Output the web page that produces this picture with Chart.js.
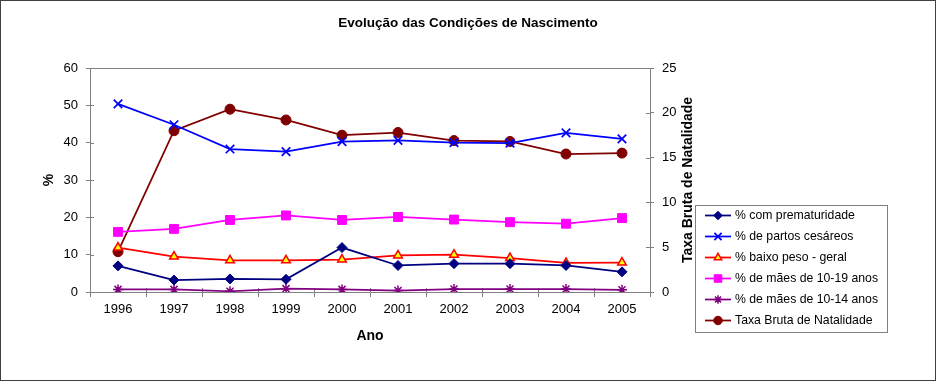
<!DOCTYPE html>
<html><head><meta charset="utf-8">
<script src="https://cdn.jsdelivr.net/npm/chart.js@4/dist/chart.umd.min.js"></script>
<style>html,body{margin:0;padding:0;background:#fff}#wrap{width:936px;height:381px;position:relative}canvas{display:block}</style>
</head><body><div id="wrap"><canvas id="c" width="936" height="381"></canvas></div>
<script>
const years = ['1996','1997','1998','1999','2000','2001','2002','2003','2004','2005'];
const prematuridade = [7.0, 3.2, 3.5, 3.4, 11.9, 7.1, 7.6, 7.6, 7.1, 5.4];
const cesareos = [50.4, 44.8, 38.3, 37.6, 40.3, 40.6, 40.0, 39.9, 42.6, 41.0];
const baixoPeso = [11.9, 9.5, 8.5, 8.5, 8.7, 9.8, 10.0, 9.1, 7.8, 7.9];
const maes1019 = [16.1, 16.9, 19.3, 20.5, 19.3, 20.1, 19.4, 18.7, 18.3, 19.8];
const maes1014 = [0.7, 0.7, 0.2, 0.9, 0.7, 0.4, 0.8, 0.8, 0.8, 0.6];
const taxaBruta = [4.5, 18.0, 20.4, 19.2, 17.5, 17.8, 16.9, 16.8, 15.4, 15.5];
const seriesLabels = ['% com prematuridade','% de partos cesáreos','% baixo peso - geral','% de mães de 10-19 anos','% de mães de 10-14 anos','Taxa Bruta de Natalidade'];
const chartTitle = 'Evolução das Condições de Nascimento';
const leftAxisTitle = '%';
const rightAxisTitle = 'Taxa Bruta de Natalidade';
const xAxisTitle = 'Ano';

const FONT = '"Liberation Sans", Arial, sans-serif';
const AXIS = '#808080';

function ds(label, data, color, style, radius, fill, axis, bw) {
  return {label, data, borderColor: color, backgroundColor: color, borderWidth: 1.75,
    pointStyle: style, pointRadius: radius, pointHoverRadius: radius,
    pointBackgroundColor: fill, pointBorderColor: color, pointBorderWidth: bw,
    yAxisID: axis, tension: 0, fill: false};
}

const framePlugin = {
  id: 'frame',
  beforeDraw(chart) {
    const ctx = chart.ctx;
    ctx.save(); ctx.fillStyle = '#fff'; ctx.fillRect(0, 0, chart.width, chart.height); ctx.restore();
  },
  beforeDatasetsDraw(chart) {
    const ctx = chart.ctx, a = chart.chartArea;
    ctx.save();
    ctx.strokeStyle = AXIS; ctx.lineWidth = 1;
    ctx.beginPath();
    ctx.moveTo(a.left, Math.round(a.top) + 0.5); ctx.lineTo(a.right, Math.round(a.top) + 0.5);
    const y = chart.scales.y, y1 = chart.scales.y1, x = chart.scales.x;
    y.ticks.forEach(t => { const p = Math.round(y.getPixelForValue(t.value)) + 0.5; ctx.moveTo(a.left, p); ctx.lineTo(a.left + 4, p); });
    y1.ticks.forEach(t => { const p = Math.round(y1.getPixelForValue(t.value)) + 0.5; ctx.moveTo(a.right, p); ctx.lineTo(a.right - 4, p); });
    for (let i = 0; i <= years.length; i++) {
      const p = Math.round(x.getPixelForValue(i - 0.5)) + 0.5;
      ctx.moveTo(p, a.bottom); ctx.lineTo(p, a.bottom - 4);
    }
    ctx.stroke();
    ctx.restore();
  },
  afterDraw(chart) {
    const ctx = chart.ctx, a = chart.chartArea;
    ctx.save();
    ctx.strokeStyle = '#404040'; ctx.lineWidth = 1;
    ctx.strokeRect(0.5, 0.5, chart.width - 1, chart.height - 1);
    ctx.fillStyle = '#000';
    ctx.font = 'bold 14px ' + FONT;
    ctx.textAlign = 'center'; ctx.textBaseline = 'middle';
    ctx.translate(688, (a.top + a.bottom) / 2);
    ctx.rotate(-Math.PI / 2);
    ctx.fillText(rightAxisTitle, 0, 0);
    ctx.restore();
    ctx.save();
    const lx = 695, ly = 205, lw = 192, lh = 127;
    ctx.fillStyle = '#fff'; ctx.fillRect(lx, ly, lw, lh);
    ctx.strokeStyle = '#808080'; ctx.lineWidth = 1;
    ctx.strokeRect(lx + 0.5, ly + 0.5, lw, lh);
    ctx.font = '12.25px ' + FONT; ctx.textBaseline = 'middle'; ctx.textAlign = 'left';
    chart.data.datasets.forEach((d, i) => {
      const yy = 215.5 + i * 21;
      ctx.strokeStyle = d.borderColor; ctx.lineWidth = 1.75;
      ctx.beginPath(); ctx.moveTo(705, yy); ctx.lineTo(731, yy); ctx.stroke();
      ctx.fillStyle = d.pointBackgroundColor; ctx.strokeStyle = d.pointBorderColor; ctx.lineWidth = d.pointBorderWidth;
      Chart.helpers.drawPoint(ctx, {pointStyle: d.pointStyle, radius: d.pointRadius * 0.85, rotation: 0, borderWidth: d.pointBorderWidth}, 718, yy);
      ctx.fillStyle = '#000';
      ctx.fillText(d.label, 735, yy + 0.5);
    });
    ctx.restore();
  }
};

new Chart(document.getElementById('c'), {
  type: 'line',
  data: {
    labels: years,
    datasets: [
      ds(seriesLabels[0], prematuridade, '#000080', 'rectRot', 5, '#000080', 'y', 1),
      ds(seriesLabels[1], cesareos, '#0000FF', 'crossRot', 6, '#0000FF', 'y', 1.75),
      ds(seriesLabels[2], baixoPeso, '#FF0000', 'triangle', 5, '#FFFF00', 'y', 1.5),
      ds(seriesLabels[3], maes1019, '#FF00FF', 'rect', 6.3, '#FF00FF', 'y', 1),
      ds(seriesLabels[4], maes1014, '#800080', 'star', 5, '#800080', 'y', 1.5),
      ds(seriesLabels[5], taxaBruta, '#800000', 'circle', 5, '#800000', 'y1', 1)
    ]
  },
  options: {
    responsive: false, animation: false, devicePixelRatio: 1,
    layout: {padding: 0},
    plugins: {
      legend: {display: false},
      tooltip: {enabled: false},
      title: {display: true, text: chartTitle, color: '#000', font: {family: FONT, size: 13.5, weight: 'bold'}, padding: {top: 15, bottom: 36.8}}
    },
    scales: {
      x: {
        type: 'category', offset: true,
        grid: {drawOnChartArea: false, offset: true, tickLength: 5, color: AXIS},
        border: {color: AXIS, width: 1},
        ticks: {color: '#000', font: {family: FONT, size: 13}, padding: 5, maxRotation: 0, autoSkip: false},
        title: {display: true, text: xAxisTitle, color: '#000', font: {family: FONT, size: 14, weight: 'bold'}, padding: {top: 0, bottom: 36}},
        afterFit: s => { s.height = 89; }
      },
      y: {
        position: 'left', min: 0, max: 60,
        grid: {drawOnChartArea: false, tickLength: 4, color: AXIS},
        border: {color: AXIS, width: 1},
        ticks: {stepSize: 10, color: '#000', font: {family: FONT, size: 13}, padding: 8},
        title: {display: true, text: leftAxisTitle, color: '#000', font: {family: FONT, size: 14, weight: 'bold'}, padding: {top: 41, bottom: 0}},
        afterFit: s => { s.width = 90; }
      },
      y1: {
        position: 'right', min: 0, max: 25,
        grid: {drawOnChartArea: false, tickLength: 4, color: AXIS},
        border: {color: AXIS, width: 1},
        ticks: {stepSize: 5, color: '#000', font: {family: FONT, size: 13}, padding: 8},
        afterFit: s => { s.width = 286; }
      }
    }
  },
  plugins: [framePlugin]
});
</script>
</body></html>
